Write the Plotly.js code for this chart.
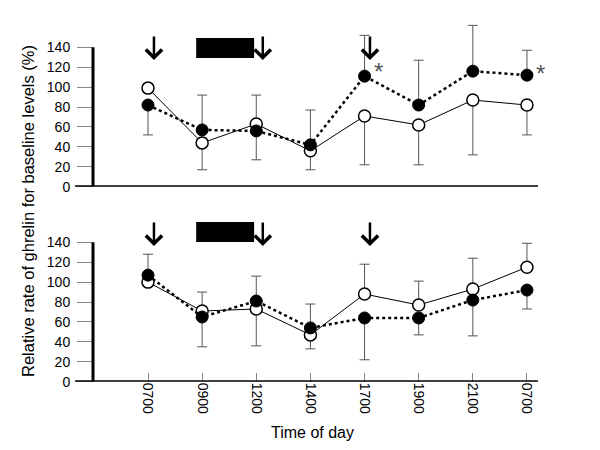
<!DOCTYPE html>
<html>
<head>
<meta charset="utf-8">
<script src="https://cdn.plot.ly/plotly-3.0.1.min.js"></script>
<style>html,body{margin:0;padding:0;background:#fff}#chart{width:600px;height:450px}</style>
</head>
<body>
<div id="chart"></div>
<script>
const timeLabels = ["0700","0900","1200","1400","1700","1900","2100","0700"];
const xIdx = [0,1,2,3,4,5,6,7];

// Top panel
const topFilled = [82, 57, 56, 42, 111, 82, 116, 112];
const topFilledPlus = [0, 35, 0, 35, 41, 45, 46, 25];
const topFilledMinus = [30, 0, 29, 0, 0, 0, 0, 0];
const topOpen = [99, 44, 63, 36, 71, 62, 87, 82];
const topOpenPlus = [0, 0, 29, 0, 0, 0, 0, 0];
const topOpenMinus = [0, 27, 0, 19, 49, 40, 55, 30];

// Bottom panel
const botFilled = [107, 65, 81, 54, 64, 64, 82, 92];
const botFilledPlus = [21, 0, 25, 24, 0, 0, 0, 0];
const botFilledMinus = [0, 30, 0, 0, 42, 17, 36, 19];
const botOpen = [100, 71, 73, 47, 88, 77, 93, 115];
const botOpenPlus = [0, 19, 0, 0, 30, 24, 31, 24];
const botOpenMinus = [0, 0, 37, 14, 0, 0, 0, 0];

const yTicks = [0,20,40,60,80,100,120,140];
const arrowX = [0.11, 2.12, 4.1];
const barX = [0.89, 1.96];

const FONT = "Liberation Sans, Arial, sans-serif";
const errColor = "#555";

function err(plus, minus){
  return {type:"data", symmetric:false, array:plus, arrayminus:minus,
          color:errColor, thickness:1, width:5};
}
function openTrace(y, plus, minus, xa, ya){
  return {x:xIdx, y:y, xaxis:xa, yaxis:ya, type:"scatter", mode:"lines+markers",
    line:{color:"#000", width:1},
    marker:{symbol:"circle", size:12, color:"#fff", line:{color:"#000", width:1.5}},
    error_y:err(plus, minus), showlegend:false, cliponaxis:false};
}
function filledTrace(y, plus, minus, xa, ya){
  return {x:xIdx, y:y, xaxis:xa, yaxis:ya, type:"scatter", mode:"lines+markers",
    line:{color:"#000", width:2.5, dash:"dot"},
    marker:{symbol:"circle", size:12, color:"#000", line:{color:"#000", width:1}},
    error_y:err(plus, minus), showlegend:false, cliponaxis:false};
}

const data = [
  openTrace(topOpen, topOpenPlus, topOpenMinus, "x", "y"),
  filledTrace(topFilled, topFilledPlus, topFilledMinus, "x", "y"),
  openTrace(botOpen, botOpenPlus, botOpenMinus, "x2", "y2"),
  filledTrace(botFilled, botFilledPlus, botFilledMinus, "x2", "y2")
];

const xRange = [-1.016, 7.204];
const yAxisBase = {
  range:[0,170], tickvals:yTicks, ticktext:yTicks.map(String),
  ticks:"outside", ticklen:15, tickcolor:"#888", tickwidth:1,
  showline:false, showgrid:false, zeroline:false,
  tickfont:{family:FONT, size:14, color:"#000"}, ticklabelstandoff:4, fixedrange:true
};

function py(px){ return 1 - px/450; }

const annotations = [];
const shapes = [];
// arrows
[[py(60), py(35)], [py(246), py(221)]].forEach(function(p){
  arrowX.forEach(function(ax){
    annotations.push({x:ax, y:p[0], xref:"x", yref:"paper", ax:ax, ay:p[1],
      axref:"x", ayref:"paper", showarrow:true, arrowhead:4, arrowsize:1.25,
      arrowwidth:2.5, arrowcolor:"#000", text:""});
  });
});
// black bars
[[py(58), py(38)], [py(242), py(222)]].forEach(function(p){
  shapes.push({type:"rect", xref:"x", yref:"paper", x0:barX[0], x1:barX[1], y0:p[0], y1:p[1],
    fillcolor:"#000", line:{width:0}});
});
// axis lines: x baselines extending left of y axis, y axis up to 140
["y","y2"].forEach(function(r){
  shapes.push({type:"line", xref:"paper", yref:r, x0:-0.0404, x1:1, y0:0, y1:0,
    line:{color:"#000", width:3}});
  shapes.push({type:"line", xref:"paper", yref:r, x0:0, x1:0, y0:0, y1:140,
    line:{color:"#000", width:3}});
});
// asterisks
annotations.push({x:(378-93)/445, y:py(71), xref:"paper", yref:"paper", text:"*", showarrow:false,
  font:{family:FONT, size:24, color:"#555"}, xanchor:"center", yanchor:"middle"});
annotations.push({x:(540-93)/445, y:py(73), xref:"paper", yref:"paper", text:"*", showarrow:false,
  font:{family:FONT, size:24, color:"#555"}, xanchor:"center", yanchor:"middle"});
// titles
annotations.push({x:(28-93)/445, y:py(211), xref:"paper", yref:"paper", textangle:-90,
  text:"Relative rate of ghrelin for baseline levels (%)", showarrow:false,
  font:{family:FONT, size:16.5, color:"#000"}, xanchor:"center", yanchor:"middle"});
annotations.push({x:(312-93)/445, y:py(432), xref:"paper", yref:"paper",
  text:"Time of day", showarrow:false,
  font:{family:FONT, size:16, color:"#000"}, xanchor:"center", yanchor:"middle"});

const layout = {
  width:600, height:450,
  margin:{l:93, r:62, t:0, b:0},
  paper_bgcolor:"#fff", plot_bgcolor:"#fff",
  showlegend:false,
  xaxis:{domain:[0,1], range:xRange, anchor:"y", showticklabels:false, ticks:"",
    showline:false, showgrid:false, zeroline:false, fixedrange:true},
  yaxis:Object.assign({}, yAxisBase, {domain:[py(186.7), py(17.4)], anchor:"x"}),
  xaxis2:{domain:[0,1], range:xRange, anchor:"y2", tickvals:xIdx, ticktext:timeLabels,
    ticks:"inside", ticklen:9, tickcolor:"#888", tickwidth:1, tickangle:90,
    tickfont:{family:FONT, size:14, color:"#000"},
    showline:false, showgrid:false, zeroline:false, fixedrange:true},
  yaxis2:Object.assign({}, yAxisBase, {domain:[py(381.7), py(212.4)], anchor:"x2"}),
  annotations:annotations,
  shapes:shapes
};

Plotly.newPlot("chart", data, layout, {staticPlot:true, displayModeBar:false});
</script>
</body>
</html>
